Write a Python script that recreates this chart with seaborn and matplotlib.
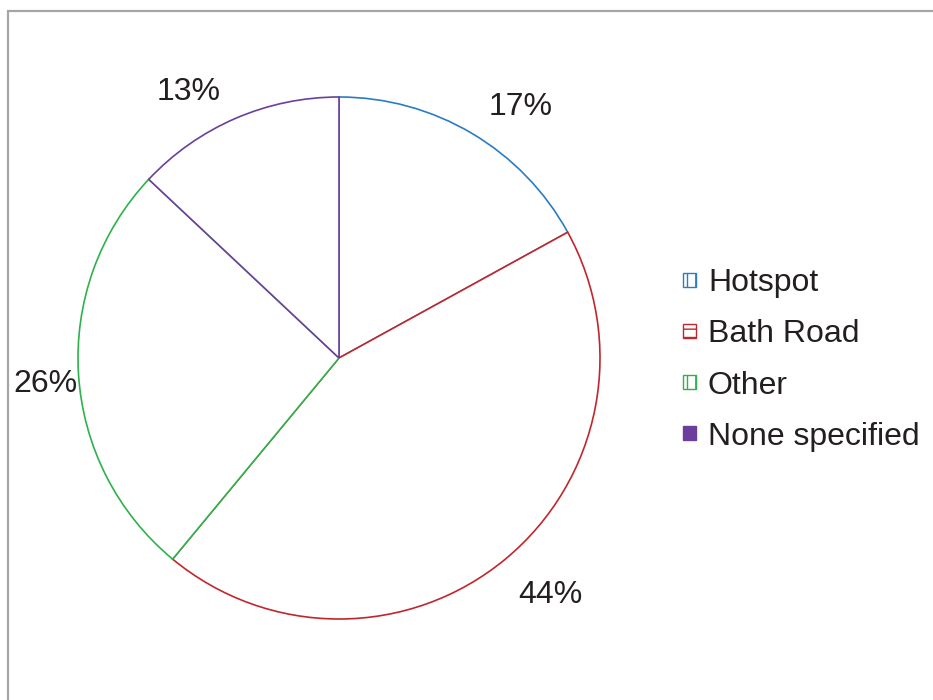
import matplotlib
matplotlib.use("Agg")
import matplotlib.pyplot as plt
import seaborn as sns
from matplotlib.patches import Patch, Rectangle

sns.set_theme(style="white")
plt.rcParams['font.family'] = ['Liberation Sans', 'DejaVu Sans']
plt.rcParams['hatch.linewidth'] = 1.0

categories = ["Hotspot", "Bath Road", "Other", "None specified"]
values = [17, 44, 26, 13]
colors = ["#2a7cc4", "#c0272d", "#2db24c", "#6b3f9b"]
hatches = ["||", "--", "||", None]
# label anchor positions (in pie-radius units), as placed in the original
label_pos = [(0.697, 0.961), (0.808, -0.909), (-1.123, -0.100), (-0.575, 1.019)]

fig = plt.figure(figsize=(9.33, 7.0), dpi=100)
fig.patch.set_facecolor("white")

# outer frame
fig.add_artist(Rectangle((8 / 933, -0.05), 1.2, 1 - 11 / 700 + 0.05,
                         transform=fig.transFigure, fill=False,
                         edgecolor="#a6a6a6", linewidth=1.6))

cx, cy, r = 339, 358, 261
ax = fig.add_axes([(cx - r) / 933, (700 - cy - r) / 700, 2 * r / 933, 2 * r / 700])
wedges, texts, autotexts = ax.pie(
    values, startangle=90, counterclock=False, radius=1,
    autopct=lambda p: f"{p:.0f}%", pctdistance=1.18,
    wedgeprops=dict(facecolor="white", linewidth=1.2),
    textprops=dict(fontsize=23, color="#231f20"))
for w, c in zip(wedges, colors):
    w.set_edgecolor(c)
for t, p in zip(autotexts, label_pos):
    t.set_position(p)
    t.set_clip_on(False)
ax.set_xlim(-1, 1)
ax.set_ylim(-1, 1)
ax.set_aspect("equal")
ax.axis("off")

handles = []
for c, h, lab in zip(colors, hatches, categories):
    if h is None:
        handles.append(Patch(facecolor=c, edgecolor=c, label=lab))
    else:
        handles.append(Patch(facecolor="white", edgecolor=c, hatch=h, label=lab))
leg = fig.legend(handles=handles, loc="center left",
                 bbox_to_anchor=(667 / 933, 1 - 360 / 700),
                 frameon=False, fontsize=23, handlelength=0.4, handleheight=0.3,
                 handletextpad=0.38, labelspacing=0.66, borderpad=0)
for t in leg.get_texts():
    t.set_color("#231f20")
for h, c in zip(leg.legend_handles, colors):
    h.set_edgecolor(c)

fig.savefig("out.png", dpi=100, facecolor="white")
